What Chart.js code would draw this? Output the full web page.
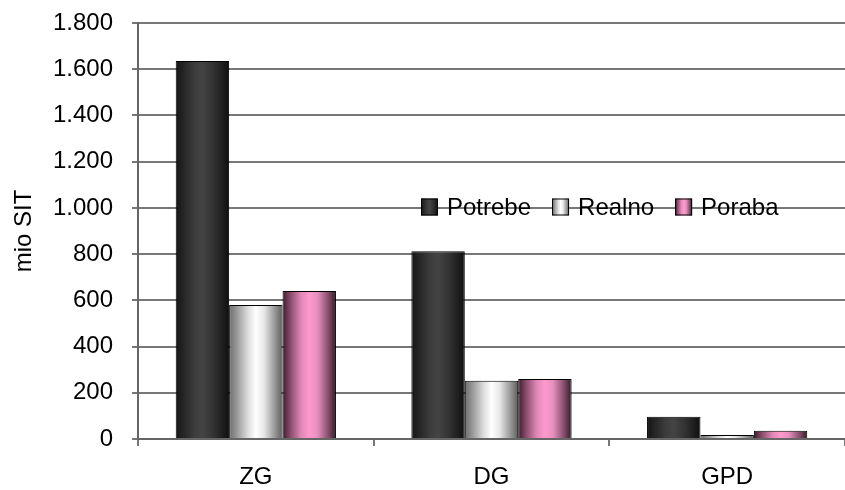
<!DOCTYPE html>
<html>
<head>
<meta charset="utf-8">
<script src="https://cdn.jsdelivr.net/npm/chart.js@4/dist/chart.umd.min.js"></script>
<style>
  html, body { margin: 0; padding: 0; background: #fff; }
  #wrap { width: 845px; height: 490px; position: relative; }
</style>
</head>
<body>
<div id="wrap"><canvas id="myChart"></canvas></div>
<script>
const categories = ['ZG', 'DG', 'GPD'];
const seriesNames = ['Potrebe', 'Realno', 'Poraba'];
const potrebe = [1636, 812, 96];
const realno = [580, 252, 17];
const poraba = [640, 260, 36];

// horizontal shading of each series (cylinder look)
const barStops = [
    [[0, '#151515'], [0.15, '#262626'], [0.35, '#3c3c3c'], [0.5, '#444444'], [0.7, '#333333'], [0.88, '#1e1e1e'], [1, '#0e0e0e']],
    [[0, '#6e6e6e'], [0.15, '#9a9a9a'], [0.35, '#dcdcdc'], [0.5, '#ffffff'], [0.65, '#e8e8e8'], [0.85, '#9a9a9a'], [1, '#5e5e5e']],
    [[0, '#3a1d2c'], [0.15, '#8a4d6c'], [0.35, '#e088b8'], [0.5, '#ff99cc'], [0.65, '#e890c0'], [0.85, '#8a5070'], [1, '#321a26']]
];

const fontFam = "'Liberation Sans', Arial, sans-serif";

const makeGrad = (ctx, x0, x1, stops) => {
    const g = ctx.createLinearGradient(x0, 0, x1, 0);
    stops.forEach(s => g.addColorStop(s[0], s[1]));
    return g;
}

const gradientBars = {
    id: 'gradientBars',
    beforeDatasetDraw(chart, args) {
        const stops = barStops[args.index];
        args.meta.data.forEach(el => {
            const g = makeGrad(chart.ctx, el.x - el.width / 2, el.x + el.width / 2, stops);
            el.options = Object.assign({}, el.options, { backgroundColor: g });
        });
    }
}

// legend sits inside the plot, across the 1.000 gridline
const middleLegend = {
    id: 'middleLegend',
    afterDraw(chart) {
        const ctx = chart.ctx;
        let x = 421;
        const y = 207;
        ctx.save();
        ctx.font = '24px ' + fontFam;
        ctx.textBaseline = 'middle';
        chart.data.datasets.forEach((ds, i) => {
            const w = 17, h = 17;
            ctx.fillStyle = makeGrad(ctx, x, x + w, barStops[i]);
            ctx.fillRect(x, y - h / 2, w, h);
            ctx.strokeStyle = '#000';
            ctx.lineWidth = 1;
            ctx.strokeRect(x + 0.5, y - h / 2 + 0.5, w - 1, h - 1);
            ctx.fillStyle = '#000';
            ctx.fillText(ds.label, x + w + 9, y + 1);
            x += w + 9 + ctx.measureText(ds.label).width + 21;
        });
        ctx.restore();
    }
}

const values = [potrebe, realno, poraba];

var ctx = document.getElementById('myChart').getContext('2d');
const chart = new Chart(ctx, {
    type: 'bar',
    data: {
        labels: categories,
        datasets: seriesNames.map((name, i) => ({
            label: name,
            data: values[i],
            backgroundColor: barStops[i][3][1],
            borderColor: '#000',
            borderWidth: 1,
            categoryPercentage: 0.68,
            barPercentage: 1
        }))
    },
    options: {
        responsive: true,
        maintainAspectRatio: false,
        animation: false,
        layout: { padding: { top: 23, right: 0, bottom: 0, left: 0 } },
        plugins: {
            legend: { display: false },
            tooltip: { enabled: false }
        },
        scales: {
            x: {
                grid: {
                    offset: true,
                    drawOnChartArea: false,
                    tickLength: 7,
                    color: '#777777',
                    lineWidth: 2
                },
                border: { color: '#666666', width: 2 },
                ticks: {
                    color: '#000',
                    font: { family: fontFam, size: 24 },
                    padding: 17
                },
                afterFit(scale) { scale.height = 51; }
            },
            y: {
                min: 0,
                max: 1800,
                ticks: {
                    stepSize: 200,
                    color: '#000',
                    font: { family: fontFam, size: 24 },
                    padding: 19,
                    callback: v => String(v).replace(/\B(?=(\d{3})+(?!\d))/g, '.')
                },
                grid: {
                    color: '#777777',
                    lineWidth: 2,
                    tickLength: 6
                },
                border: { color: '#666666', width: 2 },
                title: {
                    display: true,
                    text: 'mio SIT',
                    color: '#000',
                    font: { family: fontFam, size: 24, weight: 'normal' },
                    padding: { top: 10, bottom: 0 }
                },
                afterFit(scale) {
                    scale.width = 138;
                    scale.paddingTop = 0;
                    scale.paddingBottom = 0;
                }
            }
        }
    },
    plugins: [gradientBars, middleLegend]
});
</script>
</body>
</html>
